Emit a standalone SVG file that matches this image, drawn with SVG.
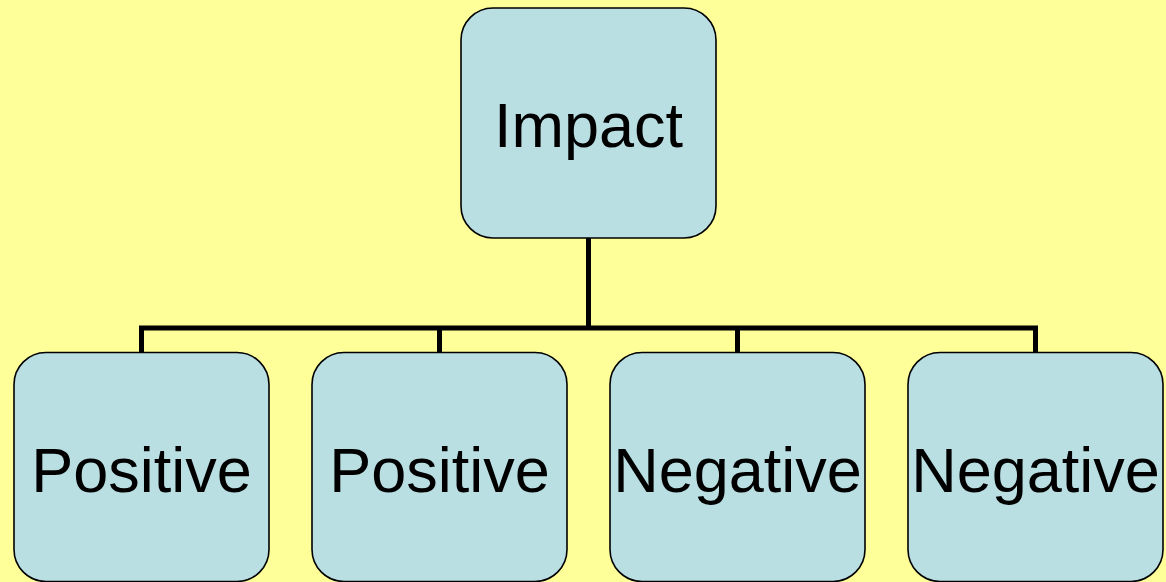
<svg xmlns="http://www.w3.org/2000/svg" width="1166" height="582" viewBox="0 0 1166 582">
<style>
.box{fill:#B9DFE3;stroke:#000;stroke-width:1.6}
.lbl{font-family:"Liberation Sans",Arial,sans-serif;font-size:63px;fill:#000;text-anchor:middle}
.conn{fill:none;stroke:#000;stroke-width:5}
</style>
<rect x="0" y="0" width="1166" height="582" fill="#FFFF99"/>
<g id="connectors">
<path class="conn" d="M588.5 238 V328 M141.5 352 V328 H1035.5 V352 M439.5 328 V352 M737.5 328 V352"/>
</g>
<g id="impact">
<rect class="box" x="461" y="8" width="255" height="230" rx="32"/>
<text class="lbl" x="588.5" y="147">Impact</text>
</g>
<g id="positive1">
<rect class="box" x="14" y="352.5" width="255" height="229" rx="32"/>
<text class="lbl" x="141.5" y="492">Positive</text>
</g>
<g id="positive2">
<rect class="box" x="312" y="352.5" width="255" height="229" rx="32"/>
<text class="lbl" x="439.5" y="492">Positive</text>
</g>
<g id="negative1">
<rect class="box" x="610" y="352.5" width="255" height="229" rx="32"/>
<text class="lbl" x="737.5" y="492">Negative</text>
</g>
<g id="negative2">
<rect class="box" x="908" y="352.5" width="255" height="229" rx="32"/>
<text class="lbl" x="1035.5" y="492">Negative</text>
</g>
</svg>
